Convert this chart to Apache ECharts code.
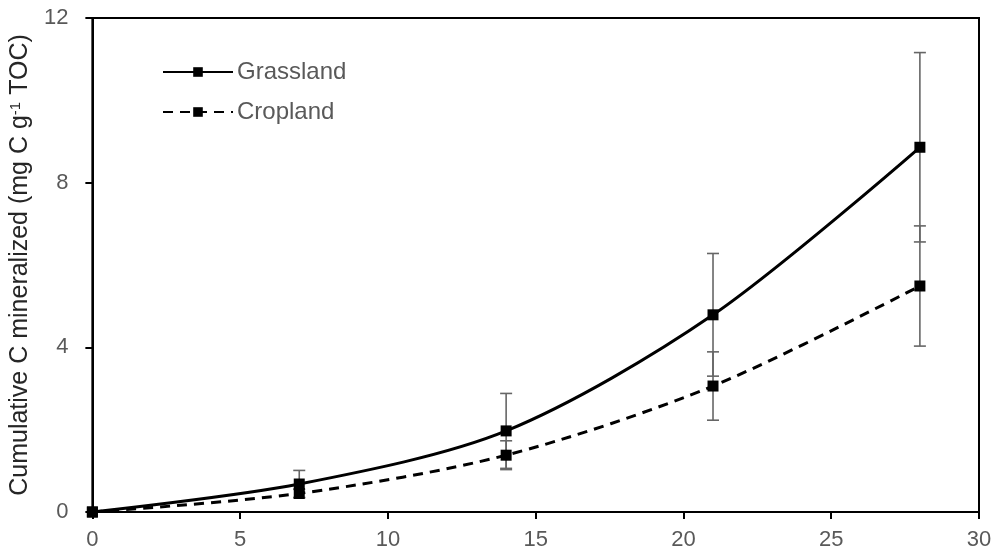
<!DOCTYPE html>
<html>
<head>
<meta charset="utf-8">
<script src="https://cdn.jsdelivr.net/npm/echarts@6/dist/echarts.min.js"></script>
<style>
  html, body { margin: 0; padding: 0; background: #fff; }
  #chart { width: 995px; height: 552px; }
</style>
</head>
<body>
<div id="chart"></div>
<script>
var days = [0, 7, 14, 21, 28];
var grassland = [0, 0.68, 1.97, 4.79, 8.86];
var grasslandErr = [0, 0.33, 0.91, 1.49, 2.30];
var cropland = [0, 0.45, 1.38, 3.06, 5.49];
var croplandErr = [0, 0.1, 0.35, 0.83, 1.46];
var xTicks = [0, 5, 10, 15, 20, 25, 30];
var yTicks = [0, 4, 8, 12];

var chart = echarts.init(document.getElementById('chart'));

function pairs(ys) {
    return days.map(function (d, i) { return [d, ys[i]]; });
}

function errData(ys, errs) {
    var out = [];
    days.forEach(function (d, i) {
        if (errs[i] > 0) out.push([d, ys[i] - errs[i], ys[i] + errs[i]]);
    });
    return out;
}

function renderErr(params, api) {
    var lo = api.coord([api.value(0), api.value(1)]);
    var hi = api.coord([api.value(0), api.value(2)]);
    var w = 6;
    var style = { stroke: '#666', lineWidth: 1.6 };
    return {
        type: 'group',
        children: [
            { type: 'line', shape: { x1: hi[0], y1: hi[1], x2: lo[0], y2: lo[1] }, style: style },
            { type: 'line', shape: { x1: hi[0] - w, y1: hi[1], x2: hi[0] + w, y2: hi[1] }, style: style },
            { type: 'line', shape: { x1: lo[0] - w, y1: lo[1], x2: lo[0] + w, y2: lo[1] }, style: style }
        ]
    };
}

var font = 'Liberation Sans, Arial, sans-serif';
var tickFont = { color: '#595959', fontSize: 22, fontFamily: font };

option = {
    animation: false,
    grid: {
        left: 92, right: 16, top: 18, bottom: 40,
        show: true, borderColor: '#000', borderWidth: 2
    },
    legend: {
        left: 157, top: 55, orient: 'vertical',
        itemWidth: 70, itemHeight: 12, itemGap: 16,
        textStyle: { color: '#595959', fontSize: 24, fontFamily: font, padding: [0, 0, 0, -1] },
        data: ['Grassland', 'Cropland']
    },
    xAxis: {
        type: 'value', min: xTicks[0], max: xTicks[xTicks.length - 1], interval: 5,
        axisLine: { lineStyle: { color: '#000', width: 2 } },
        axisTick: { show: true, length: 7, lineStyle: { color: '#000', width: 2 } },
        axisLabel: Object.assign({ margin: 17 }, tickFont),
        splitLine: { show: false }
    },
    yAxis: {
        type: 'value', min: yTicks[0], max: yTicks[yTicks.length - 1], interval: 4,
        name: 'Cumulative C mineralized (mg C g{sup|-1} TOC)',
        nameLocation: 'middle', nameGap: 57, nameRotate: 90,
        nameTextStyle: {
            color: '#262626', fontSize: 25, fontFamily: font,
            rich: { sup: { fontSize: 15, verticalAlign: 'top', padding: [0, 0, 10, 0], color: '#262626', fontFamily: font } }
        },
        axisLine: { lineStyle: { color: '#000', width: 2 } },
        axisTick: { show: true, length: 7, lineStyle: { color: '#000', width: 2 } },
        axisLabel: Object.assign({ margin: 24 }, tickFont),
        splitLine: { show: false }
    },
    series: [
        {
            type: 'custom', name: 'errG', renderItem: renderErr, z: 1,
            data: errData(grassland, grasslandErr), encode: { x: 0, y: [1, 2] }, silent: true
        },
        {
            type: 'custom', name: 'errC', renderItem: renderErr, z: 1,
            data: errData(cropland, croplandErr), encode: { x: 0, y: [1, 2] }, silent: true
        },
        {
            name: 'Grassland', type: 'line', smooth: 0.3, z: 3,
            data: pairs(grassland),
            symbol: 'rect', symbolSize: 11,
            itemStyle: { color: '#000' },
            lineStyle: { color: '#000', width: 3 }
        },
        {
            name: 'Cropland', type: 'line', smooth: 0.3, z: 3,
            data: pairs(cropland),
            symbol: 'rect', symbolSize: 11,
            itemStyle: { color: '#000' },
            lineStyle: { color: '#000', width: 3, type: [10, 7] }
        }
    ]
};

chart.setOption(option, true);
</script>
</body>
</html>
